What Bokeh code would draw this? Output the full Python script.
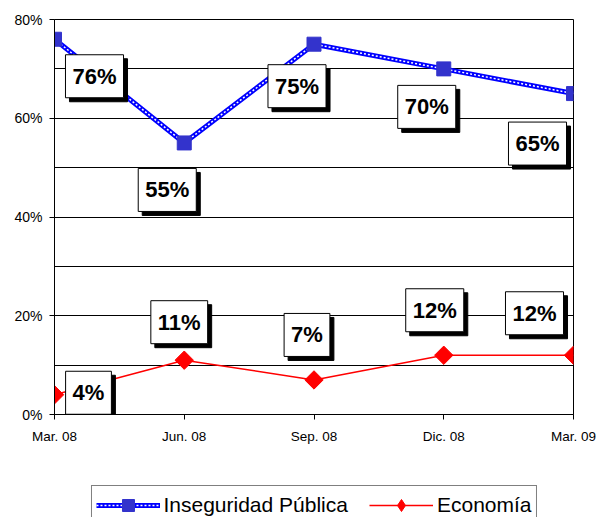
from bokeh.plotting import figure
from bokeh.layouts import column
from bokeh.models import (Range1d, FixedTicker, ColumnDataSource, Legend, LegendItem)
from bokeh.core.properties import value
from bokeh.embed import file_html
from bokeh.resources import INLINE

# ---- data ----
periods = ["Mar. 08", "Jun. 08", "Sep. 08", "Dic. 08", "Mar. 09"]
inseguridad = [76, 55, 75, 70, 65]
economia = [4, 11, 7, 12, 12]
y_ticks = [0, 20, 40, 60, 80]
grid_levels = [10, 20, 30, 40, 50, 60, 70]
series_names = ["Inseguridad Pública", "Economía"]

# ---- label placement (screen px offsets from each point) ----
ins_dx = [40, -17, -17, -17, -36]
ins_dy = [37, 47, 42, 38, 50]
eco_dx = [34, -5, -7, -9, -39]
eco_dy = [-2, -38, -45, -45, -42]
SHADOW = 4

FONT = "Liberation Sans"
BLUE, BLUE_MARK, RED = "#0000FF", "#3333CC", "#FF0000"
xs = list(range(len(periods)))

W = 596
BORDERS = dict(min_border_left=54, min_border_right=23)
p = figure(width=W, height=485, output_backend="svg", toolbar_location=None,
           x_range=Range1d(0, len(periods) - 1), y_range=Range1d(0, 80),
           min_border_top=19, min_border_bottom=71, **BORDERS)
p.outline_line_color = "black"
p.outline_line_width = 1
p.background_fill_color = "white"
p.border_fill_color = "white"

p.xgrid.grid_line_color = None
p.ygrid.ticker = FixedTicker(ticks=grid_levels)
p.ygrid.grid_line_color = "black"
p.ygrid.grid_line_width = 1

p.yaxis.ticker = FixedTicker(ticks=y_ticks)
p.yaxis.major_label_overrides = {t: f"{t}%" for t in y_ticks}
p.xaxis.ticker = FixedTicker(ticks=xs)
p.xaxis.major_label_overrides = {i: s for i, s in enumerate(periods)}
for ax in (p.xaxis[0], p.yaxis[0]):
    ax.axis_line_color = "black"
    ax.major_tick_line_color = "black"
    ax.major_tick_out = 5
    ax.major_tick_in = 0
    ax.minor_tick_line_color = None
    ax.major_label_text_font = FONT
    ax.major_label_text_color = "black"
p.yaxis.major_label_text_font_size = "14px"
p.yaxis.major_label_standoff = 7
p.xaxis.major_label_text_font_size = "13.5px"
p.xaxis.major_label_standoff = 9

src_i = ColumnDataSource(dict(x=xs, y=inseguridad, t=[f"{v}%" for v in inseguridad],
                              dx=ins_dx, dy=ins_dy,
                              sdx=[d + SHADOW for d in ins_dx], sdy=[d + SHADOW for d in ins_dy]))
src_e = ColumnDataSource(dict(x=xs, y=economia, t=[f"{v}%" for v in economia],
                              dx=eco_dx, dy=eco_dy,
                              sdx=[d + SHADOW for d in eco_dx], sdy=[d + SHADOW for d in eco_dy]))


def draw_series(fig, src_ins, src_eco, eco_marker="square", eco_angle=0.7853981634):
    el = fig.line("x", "y", source=src_eco, line_color=RED, line_width=1.5)
    em = fig.scatter("x", "y", source=src_eco, marker=eco_marker, angle=eco_angle,
                     size=13, fill_color=RED, line_color=RED)
    il = fig.line("x", "y", source=src_ins, line_color=BLUE, line_width=5)
    idash = fig.line("x", "y", source=src_ins, line_color="white", line_width=1.5,
                     line_dash="2 2")
    im = fig.scatter("x", "y", source=src_ins, marker="square", size=14,
                     fill_color=BLUE_MARK, line_color=BLUE_MARK)
    return [il, idash, im], [el, em]


draw_series(p, src_i, src_e)

# data label boxes with drop shadow
for src in (src_i, src_e):
    p.text("x", "y", text="t", source=src, x_offset="sdx", y_offset="sdy",
           text_font=value(FONT), text_font_style="bold", text_font_size="22px",
           text_align="center", text_baseline="middle", text_color="black",
           background_fill_color="black", border_line_color="black",
           padding=dict(x=7, y=9))
    p.text("x", "y", text="t", source=src, x_offset="dx", y_offset="dy",
           text_font=value(FONT), text_font_style="bold", text_font_size="22px",
           text_align="center", text_baseline="middle", text_color="black",
           background_fill_color="white", border_line_color="black", border_line_width=1,
           padding=dict(x=7, y=9))

# ---- legend strip below the chart ----
# Same series drawn again, but the y range is far from the data, so only the
# legend keys are visible in this strip.
pl = figure(width=W, height=32, output_backend="svg", toolbar_location=None,
            x_range=Range1d(0, len(periods) - 1), y_range=Range1d(-200, -100),
            x_axis_location=None, y_axis_location=None,
            min_border_top=0, min_border_bottom=0, outline_line_color=None,
            **BORDERS)
pl.grid.visible = False
leg_i, leg_e = draw_series(pl, src_i, src_e, eco_marker="diamond", eco_angle=0)

legend = Legend(items=[
    LegendItem(label=series_names[0], renderers=leg_i),
    LegendItem(label=series_names[1], renderers=leg_e),
], orientation="horizontal", location="top_center")
legend.label_text_font = FONT
legend.label_text_font_size = "21px"
legend.label_text_color = "black"
legend.glyph_width = 64
legend.glyph_height = 30
legend.label_standoff = 4
legend.spacing = 21
legend.padding = 4
legend.margin = 0
legend.border_line_color = "black"
legend.border_line_width = 1
legend.background_fill_color = "white"
legend.background_fill_alpha = 1
pl.add_layout(legend)

layout = column(p, pl, spacing=0)
open("out.html", "w").write(file_html(layout, INLINE))
